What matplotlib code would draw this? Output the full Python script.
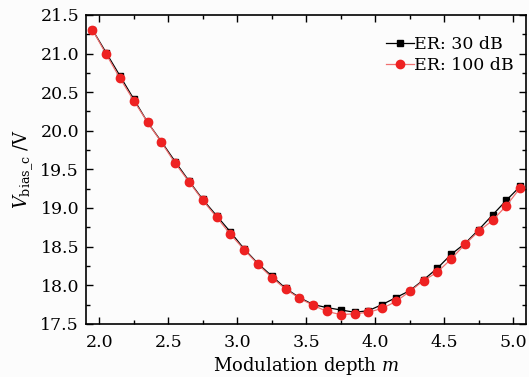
import matplotlib
matplotlib.use("Agg")
import matplotlib.pyplot as plt
from matplotlib.ticker import MultipleLocator

m = [1.95, 2.05, 2.15, 2.25, 2.35, 2.45, 2.55, 2.65, 2.75, 2.85, 2.95, 3.05, 3.15, 3.25,
     3.35, 3.45, 3.55, 3.65, 3.75, 3.85, 3.95, 4.05, 4.15, 4.25, 4.35, 4.45, 4.55, 4.65,
     4.75, 4.85, 4.95, 5.05]
v_er30 = [21.31, 21.01, 20.71, 20.41, 20.11, 19.86, 19.60, 19.35, 19.11, 18.90, 18.69, 18.47,
          18.28, 18.12, 17.96, 17.84, 17.75, 17.71, 17.68, 17.65, 17.67, 17.75, 17.84, 17.93,
          18.07, 18.22, 18.40, 18.54, 18.72, 18.91, 19.10, 19.28]
v_er100 = [21.31, 20.99, 20.68, 20.39, 20.11, 19.85, 19.58, 19.34, 19.10, 18.88, 18.66, 18.46,
           18.27, 18.10, 17.95, 17.83, 17.74, 17.66, 17.62, 17.63, 17.65, 17.70, 17.79, 17.92,
           18.06, 18.17, 18.34, 18.53, 18.70, 18.84, 19.03, 19.26]

plt.rcParams['font.family'] = ['DejaVu Serif']
plt.rcParams['mathtext.fontset'] = 'dejavuserif'

fig = plt.figure(figsize=(5.29, 3.77), dpi=100, facecolor='#fcfcfc')
ax = fig.add_axes([0.1626, 0.141, 0.8317, 0.8195])
ax.set_facecolor('#fcfcfc')

ax.plot(m, v_er30, color='black', lw=0.9, marker='s', ms=4.6, mfc='black', mec='black',
        label='ER: 30 dB', zorder=2)
ax.plot(m, v_er100, color='#f07070', lw=0.9, marker='o', ms=6.0, mfc='#ee2222', mec='#ee2222',
        label='ER: 100 dB', zorder=3)

ax.set_xlim(1.904, 5.092)
ax.set_ylim(17.5, 21.5)
ax.xaxis.set_major_locator(MultipleLocator(0.5))
ax.xaxis.set_minor_locator(MultipleLocator(0.25))
ax.yaxis.set_major_locator(MultipleLocator(0.5))
ax.yaxis.set_minor_locator(MultipleLocator(0.25))
ax.tick_params(which='both', direction='in', top=True, right=True, labelsize=12.5, width=1.0)
ax.tick_params(which='major', length=5, pad=5)
ax.tick_params(axis='x', which='major', pad=7)
ax.tick_params(which='minor', length=3)
for s in ax.spines.values():
    s.set_linewidth(1.2)

ax.set_xlabel('Modulation depth $m$', fontsize=13, labelpad=3)
ax.set_ylabel(r'$V_{\mathrm{bias\_c}}$ /V', fontsize=13, labelpad=4)

ax.legend(loc='upper right', frameon=False, fontsize=12.5, handlelength=1.6, handletextpad=0.0,
          borderaxespad=0.3, labelspacing=0.2, bbox_to_anchor=(1.0, 0.97))

fig.savefig('out.png', dpi=100, facecolor=fig.get_facecolor())
